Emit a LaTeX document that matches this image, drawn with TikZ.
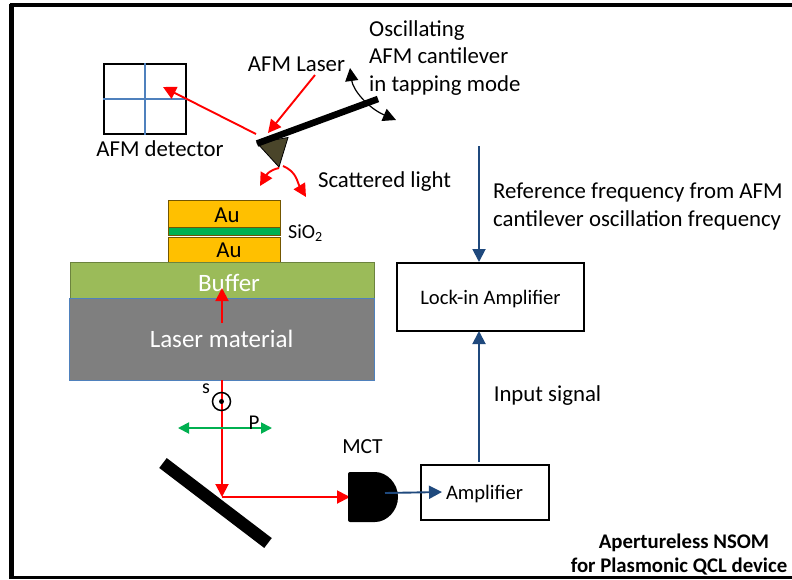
\documentclass[tikz,border=0pt]{standalone}
\usepackage{fontspec}
\setmainfont{Carlito}
\usetikzlibrary{arrows.meta}
\definecolor{arrowblue}{HTML}{1F497D}
\definecolor{gridblue}{HTML}{4F81BD}
\definecolor{goldau}{HTML}{FFC000}
\definecolor{oxide}{HTML}{00B050}
\definecolor{buffergreen}{HTML}{9BBB59}
\definecolor{lasergrey}{HTML}{7F7F7F}
\definecolor{tipbrown}{HTML}{4A452A}
\definecolor{pgreen}{HTML}{00B050}
\tikzset{
  x=1pt,y=-1pt,
  lbl/.style={font=\fontsize{22.8}{27.5}\selectfont,inner sep=0pt,align=left,text=black},
  boxlbl/.style={font=\fontsize{20.6}{24}\selectfont,inner sep=0pt,text=black},
  redline/.style={draw=red,line width=1.9pt},
  redarrow/.style={redline,-{Triangle[length=13pt,width=13pt]}},
  bluearrow/.style={draw=arrowblue,line width=1.9pt,-{Triangle[length=13pt,width=13pt]}},
  blackarrow/.style={draw=black,line width=1.2pt,{Triangle[length=13pt,width=13pt]}-{Triangle[length=13pt,width=13pt]}},
  greenarrow/.style={draw=pgreen,line width=1.9pt,{Triangle[length=11pt,width=11pt]}-{Triangle[length=11pt,width=11pt]}},
  boxed/.style={draw=black,line width=1.9pt,fill=white,inner sep=0pt},
}
\begin{document}
\begin{tikzpicture}
\useasboundingbox (0,0) rectangle (792,579);
\fill[white] (0,0) rectangle (792,579);
\draw[line width=3.5pt] (9.5,5.2) -- (792,5.2);
\draw[line width=4.5pt] (11.5,4) -- (11.5,579);
\draw[line width=3pt] (10,577.5) -- (792,577.5);
% detector
\node[boxed,minimum width=82pt,minimum height=70pt] (det) at (145,99) {};
\draw[gridblue,line width=1.4pt] (det.north) -- (det.south);
\draw[gridblue,line width=1.4pt] (det.west) -- (det.east);
\node[lbl] (detlabel) at (160,149) {AFM detector};
\node[lbl] (laserlabel) at (296.5,64) {AFM Laser};
\node[lbl,anchor=north west] (osc) at (369,20) {Oscillating\\AFM cantilever\\in tapping mode};
\node[lbl] (scatlabel) at (384.5,182) {Scattered light};
% layers
\node[draw=black!55!goldau,fill=goldau,line width=.8pt,minimum width=112pt,minimum height=27pt,inner sep=0pt] (au1) at (224.5,214) {};
\node[draw=black!55!goldau,fill=goldau,line width=.8pt,minimum width=112pt,minimum height=25pt,inner sep=0pt] (au2) at (224.5,250) {};
\node[draw=black!55!goldau,fill=oxide,line width=.8pt,minimum width=112pt,minimum height=8.5pt,inner sep=0pt] (sio) at (224.5,231.5) {};
\node[lbl] at (227,215) {Au};
\node[lbl] at (229,250) {Au};
\node[font=\fontsize{20}{24}\selectfont,inner sep=0pt,anchor=west] (siolabel) at (288,233) {SiO\textsubscript{2}};
\node[draw=buffergreen!70!black,fill=buffergreen,line width=.6pt,minimum width=304pt,minimum height=36pt,inner sep=0pt] (buf) at (222.5,280) {};
\node[draw=gridblue,fill=lasergrey,line width=.6pt,minimum width=305pt,minimum height=82pt,inner sep=0pt] (lm) at (222,339) {};
\node[font=\fontsize{25}{30}\selectfont,inner sep=0pt,text=white] at (229,283) {Buffer};
\node[font=\fontsize{25}{30}\selectfont,inner sep=0pt,text=white] at (221.5,339) {Laser material};
% cantilever
\coordinate (cantl) at (257,143.5);
\coordinate (cantr) at (378,99);
\coordinate (tipa) at (257,143);
\coordinate (tipb) at (288,137.5);
\coordinate (tipc) at (279,167);
\fill[tipbrown,draw=black,line width=.8pt] (tipa) -- (tipb) -- (tipc) -- cycle;
\draw[line width=6.6pt] (cantl) -- (cantr);
\coordinate (laserfrom) at (315,75);
\coordinate (laserto) at (268,133);
\draw[redarrow] (laserfrom) -- (laserto);
\coordinate (reflfrom) at (256,134);
\coordinate (reflto) at (163,87);
\draw[redarrow] (reflfrom) -- (reflto);
\coordinate (osctop) at (350,68);
\coordinate (oscbot) at (396,120);
\draw[blackarrow] (osctop) .. controls (353,90) and (368,108) .. (oscbot);
\draw[redarrow] (279,168) .. controls (270,170) and (267,174) .. (260,186);
\draw[redarrow] (283,166) .. controls (297,172) and (297,182) .. (306,197);
% interior beam
\coordinate (beam0) at (222,323);
\coordinate (beam1) at (222,288);
\draw[redarrow] (beam0) -- (beam1);
% lower beam
\coordinate (beamtop) at (222,380);
\coordinate (mirrorhit) at (222,497);
\coordinate (mctin) at (350,497);
\draw[redarrow] (beamtop) -- (mirrorhit);
\draw[redarrow] (mirrorhit) -- (mctin);
\node[draw,circle,line width=1.5pt,minimum size=18pt,inner sep=0pt] (s) at (221.5,401.5) {};
\fill (s.center) circle (2.5pt);
\node[font=\fontsize{20}{22}\selectfont,inner sep=0pt] at (206,389) {s};
\coordinate (pl) at (178,428); \coordinate (pr) at (272,428);
\draw[greenarrow] (pl) -- (pr);
\node[font=\fontsize{21}{24}\selectfont,inner sep=0pt] at (254,423) {P};
\coordinate (m1) at (163,463); \coordinate (m2) at (268,543);
\draw[line width=12.4pt] (m1) -- (m2);
% MCT
\fill[rounded corners=2pt] (348,472) -- (373,472) arc[start angle=90,end angle=-90,radius=25pt] -- (348,522) -- cycle;
\node[lbl,font=\fontsize{21.5}{24}\selectfont] (mctlabel) at (362.5,447) {MCT};
\coordinate (mctout) at (385,493);
% amplifier
\node[boxed,minimum width=128pt,minimum height=55pt] (amp) at (485,492.5) {};
\node[boxlbl] at (484.5,494) {Amplifier};
\draw[bluearrow] (mctout) -- (442,492);
% lock-in
\node[boxed,minimum width=187pt,minimum height=68pt] (lock) at (490.5,297) {};
\node[boxlbl] (locklabel) at (490.5,299) {Lock-in Amplifier};
\coordinate (ampup) at (479,462);
\coordinate (lockin) at (479,331);
\draw[bluearrow] (ampup) -- (lockin);
\node[lbl] at (547.5,396) {Input signal};
\coordinate (reftop) at (479,146);
\coordinate (refend) at (479,262);
\draw[bluearrow] (reftop) -- (refend);
\node[lbl,anchor=north west] at (493,183) {Reference frequency from AFM\\cantilever oscillation frequency};
\node[font=\bfseries\fontsize{20.8}{24}\selectfont,inner sep=0pt,align=center] at (679,554) {\hspace*{10pt}Apertureless NSOM\\for Plasmonic QCL device};
\end{tikzpicture}
\end{document}
